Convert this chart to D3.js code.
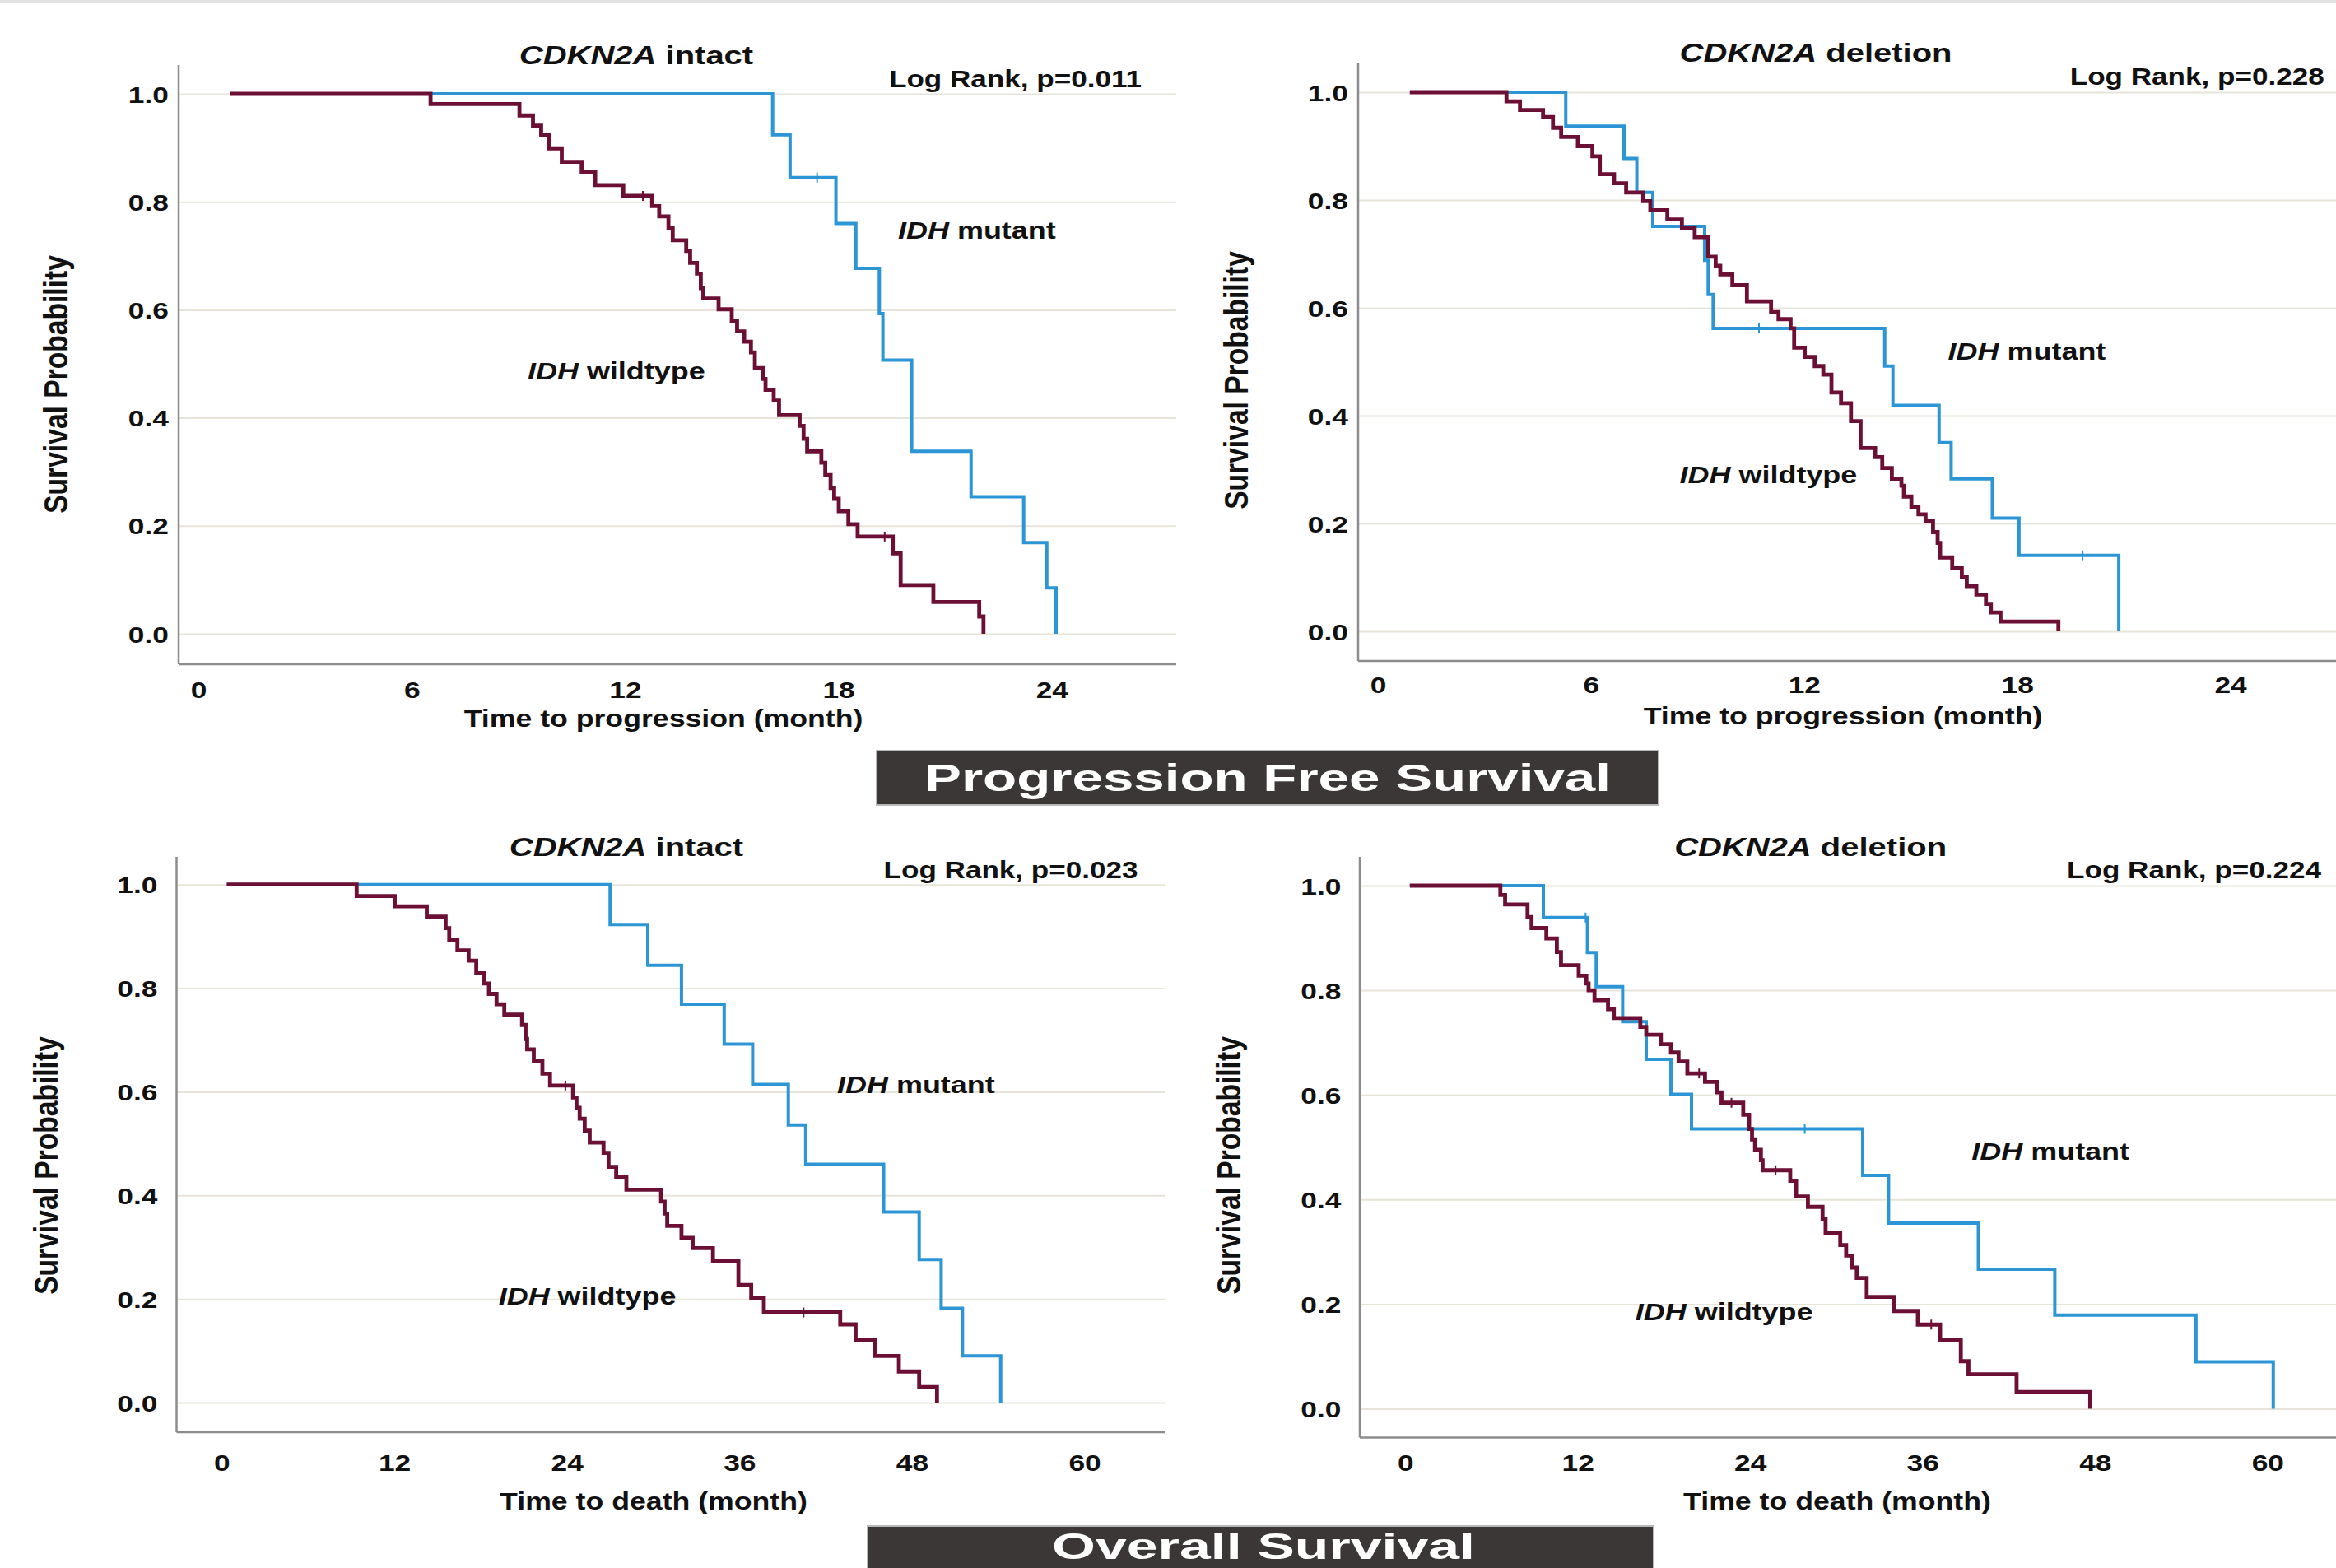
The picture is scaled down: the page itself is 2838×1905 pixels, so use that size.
<!DOCTYPE html>
<html><head><meta charset="utf-8">
<script src="https://cdn.jsdelivr.net/npm/d3@7"></script>
<style>html,body{margin:0;padding:0;background:#fff;} svg{display:block;}</style>
</head><body><svg id="c" width="2838" height="1905"></svg>
<script>
// ---------------- DATA (months / survival probability) ----------------
const pfsTicks = [0, 6, 12, 18, 24];
const osTicks = [0, 12, 24, 36, 48, 60];
const yTicks = [0, 0.2, 0.4, 0.6, 0.8, 1.0];

// Progression free survival, CDKN2A intact
const pfsIntactWtTime = [0.9, 6.53, 9.03, 9.41, 9.64, 9.87, 10.22, 10.78, 11.16, 11.95, 12.76, 12.96, 13.22, 13.34, 13.72, 13.83, 14.02, 14.13, 14.20, 14.63, 15.00, 15.15, 15.35, 15.54, 15.65, 15.88, 15.95, 16.18, 16.33, 16.91, 17.02, 17.12, 17.52, 17.63, 17.78, 17.88, 18.01, 18.28, 18.54, 19.53, 19.75, 20.67, 21.96, 22.08];
const pfsIntactWtSurv = [1.0, 0.981, 0.960, 0.941, 0.923, 0.899, 0.874, 0.855, 0.831, 0.811, 0.792, 0.773, 0.751, 0.729, 0.709, 0.687, 0.667, 0.640, 0.621, 0.601, 0.580, 0.560, 0.541, 0.521, 0.492, 0.472, 0.452, 0.432, 0.405, 0.385, 0.361, 0.338, 0.317, 0.294, 0.270, 0.250, 0.227, 0.203, 0.180, 0.149, 0.090, 0.059, 0.032, 0];
const pfsIntactWtCensor = [12.50, 19.30];
const pfsIntactMutTime = [0.9, 16.15, 16.64, 17.93, 18.49, 19.15, 19.25, 20.06, 21.73, 23.21, 23.86, 24.12];
const pfsIntactMutSurv = [1.0, 0.924, 0.845, 0.760, 0.677, 0.593, 0.507, 0.338, 0.254, 0.169, 0.085, 0];
const pfsIntactMutCensor = [17.40];

// Progression free survival, CDKN2A deletion
const pfsDelWtTime = [0.90, 3.62, 4.00, 4.65, 4.93, 5.16, 5.63, 6.04, 6.25, 6.65, 6.99, 7.47, 7.67, 8.15, 8.56, 8.92, 9.30, 9.51, 9.64, 9.98, 10.39, 11.07, 11.28, 11.62, 11.72, 12.02, 12.30, 12.54, 12.77, 13.04, 13.32, 13.59, 14.00, 14.20, 14.47, 14.74, 14.81, 15.02, 15.22, 15.42, 15.63, 15.76, 15.83, 16.17, 16.44, 16.58, 16.85, 17.12, 17.26, 17.53, 19.16];
const pfsDelWtSurv = [1.0, 0.983, 0.967, 0.954, 0.934, 0.917, 0.900, 0.881, 0.848, 0.831, 0.814, 0.798, 0.781, 0.764, 0.748, 0.731, 0.695, 0.678, 0.662, 0.642, 0.612, 0.592, 0.579, 0.562, 0.526, 0.509, 0.492, 0.476, 0.443, 0.423, 0.390, 0.340, 0.323, 0.303, 0.283, 0.270, 0.250, 0.230, 0.217, 0.204, 0.184, 0.164, 0.137, 0.117, 0.101, 0.084, 0.068, 0.051, 0.035, 0.018, 0];
const pfsDelWtCensor = [];
const pfsDelMutTime = [0.90, 5.29, 6.93, 7.29, 7.74, 9.20, 9.30, 9.44, 14.27, 14.50, 15.80, 16.14, 17.30, 18.05, 20.86];
const pfsDelMutSurv = [1.0, 0.937, 0.877, 0.814, 0.751, 0.688, 0.625, 0.562, 0.492, 0.419, 0.350, 0.283, 0.210, 0.141, 0];
const pfsDelMutCensor = [10.73, 19.84];

// Overall survival, CDKN2A intact
const osIntactWtTime = [0.35, 9.38, 12.03, 14.26, 15.57, 15.82, 16.39, 17.17, 17.70, 18.23, 18.58, 19.11, 19.65, 20.88, 21.13, 21.24, 21.70, 22.30, 22.83, 24.43, 24.67, 24.89, 25.24, 25.59, 26.55, 26.90, 27.43, 28.14, 30.55, 30.80, 30.98, 31.97, 32.75, 34.16, 35.93, 36.82, 37.70, 43.01, 44.08, 45.42, 47.09, 48.50, 49.74];
const osIntactWtSurv = [1.0, 0.978, 0.958, 0.938, 0.916, 0.893, 0.873, 0.853, 0.829, 0.809, 0.789, 0.769, 0.749, 0.729, 0.702, 0.682, 0.659, 0.635, 0.612, 0.589, 0.569, 0.548, 0.525, 0.502, 0.482, 0.455, 0.435, 0.411, 0.388, 0.365, 0.341, 0.318, 0.298, 0.274, 0.227, 0.201, 0.174, 0.151, 0.120, 0.090, 0.060, 0.030, 0];
const osIntactWtCensor = [23.9, 40.46];
const osIntactMutTime = [0.35, 27.01, 29.63, 31.97, 34.94, 36.92, 39.40, 40.61, 46.03, 48.50, 50.03, 51.51, 54.17];
const osIntactMutSurv = [1.0, 0.923, 0.844, 0.769, 0.692, 0.614, 0.536, 0.460, 0.368, 0.276, 0.182, 0.090, 0];
const osIntactMutCensor = [];

// Overall survival, CDKN2A deletion
const osDelWtTime = [0.32, 6.62, 6.95, 8.51, 8.79, 9.82, 10.55, 10.84, 12.07, 12.60, 12.76, 13.17, 14.11, 14.52, 16.36, 16.77, 17.79, 18.49, 19.02, 19.63, 20.86, 21.68, 22.01, 23.52, 23.93, 24.13, 24.34, 24.75, 24.87, 26.79, 27.20, 28.02, 29.04, 29.25, 30.27, 30.68, 31.09, 31.42, 32.11, 34.03, 35.67, 37.22, 38.66, 39.19, 42.54, 47.66];
const osDelWtSurv = [1.0, 0.982, 0.964, 0.940, 0.919, 0.899, 0.873, 0.848, 0.828, 0.813, 0.800, 0.781, 0.764, 0.747, 0.730, 0.715, 0.697, 0.681, 0.664, 0.641, 0.625, 0.605, 0.585, 0.562, 0.535, 0.515, 0.495, 0.475, 0.456, 0.436, 0.406, 0.386, 0.363, 0.336, 0.313, 0.293, 0.270, 0.250, 0.214, 0.187, 0.161, 0.131, 0.091, 0.066, 0.032, 0];
const osDelWtCensor = [20.45, 22.7, 25.77, 36.6];
const osDelMutTime = [0.32, 9.61, 12.68, 13.29, 15.13, 16.77, 18.49, 19.92, 31.83, 33.63, 39.88, 45.20, 55.02, 60.40];
const osDelMutSurv = [1.0, 0.939, 0.872, 0.807, 0.740, 0.668, 0.601, 0.535, 0.446, 0.355, 0.267, 0.179, 0.090, 0];
const osDelMutCensor = [12.55, 27.8];

const panelTitles = [
  [{t: "CDKN2A", i: true}, {t: " intact"}],
  [{t: "CDKN2A", i: true}, {t: " deletion"}],
  [{t: "CDKN2A", i: true}, {t: " intact"}],
  [{t: "CDKN2A", i: true}, {t: " deletion"}]
];
const logRankTexts = ["Log Rank, p=0.011", "Log Rank, p=0.228", "Log Rank, p=0.023", "Log Rank, p=0.224"];
const xTitles = ["Time to progression (month)", "Time to progression (month)", "Time to death (month)", "Time to death (month)"];
const yTitle = "Survival Probability";
const bannerTexts = ["Progression Free Survival", "Overall Survival"];

// ---------------- LAYOUT ----------------
const MAROON = "#6c0f35", BLUE = "#2c95d5";
const FONT = '"Liberation Sans", Arial, Helvetica, sans-serif';

const panels = [
  {ticks: pfsTicks, xMax: 24, xr: [241, 1277.8], yr: [770, 114], axX: 217, axTop: 79, axY: 807, right: 1429,
   yLabR: 205, xLabB: 848, title: [773, 77.5], lr: [1387, 106], mut: [1091, 290], wt: [641, 460.6], xt: [806, 883], yt: [82, 467],
   wt_t: pfsIntactWtTime, wt_s: pfsIntactWtSurv, wt_c: pfsIntactWtCensor, mu_t: pfsIntactMutTime, mu_s: pfsIntactMutSurv, mu_c: pfsIntactMutCensor},
  {ticks: pfsTicks, xMax: 24, xr: [1674, 2709.6], yr: [767, 112], axX: 1650, axTop: 76, axY: 803, right: 2838,
   yLabR: 1638, xLabB: 842, title: [2206, 75], lr: [2823.7, 102.7], mut: [2366.6, 437], wt: [2040.6, 586.7], xt: [2239, 880], yt: [1516, 462],
   wt_t: pfsDelWtTime, wt_s: pfsDelWtSurv, wt_c: pfsDelWtCensor, mu_t: pfsDelMutTime, mu_s: pfsDelMutSurv, mu_c: pfsDelMutCensor},
  {ticks: osTicks, xMax: 60, xr: [269.4, 1317.6], yr: [1704, 1074.7], axX: 214.5, axTop: 1041, axY: 1740, right: 1415,
   yLabR: 191.4, xLabB: 1786.8, title: [761, 1039.6], lr: [1382.5, 1067.3], mut: [1017, 1327.6], wt: [605.7, 1585], xt: [794, 1834], yt: [70, 1416],
   wt_t: osIntactWtTime, wt_s: osIntactWtSurv, wt_c: osIntactWtCensor, mu_t: osIntactMutTime, mu_s: osIntactMutSurv, mu_c: osIntactMutCensor},
  {ticks: osTicks, xMax: 60, xr: [1707.2, 2754.8], yr: [1711.6, 1076], axX: 1652, axTop: 1041, axY: 1746.5, right: 2838,
   yLabR: 1629.4, xLabB: 1786.8, title: [2199.6, 1039.6], lr: [2820, 1067.3], mut: [2395.3, 1409], wt: [1986.8, 1603.6], xt: [2232, 1834], yt: [1507, 1416],
   wt_t: osDelWtTime, wt_s: osDelWtSurv, wt_c: osDelWtCensor, mu_t: osDelMutTime, mu_s: osDelMutSurv, mu_c: osDelMutCensor}
];

const svg = d3.select("#c");
svg.append("rect").attr("x", 0).attr("y", 0).attr("width", 2838).attr("height", 1905).attr("fill", "#fff");
svg.append("rect").attr("x", 0).attr("y", 0).attr("width", 2838).attr("height", 4).attr("fill", "#e2e2e2");

function addText(g, x, y, parts, o) {
  o = Object.assign({size: 29, sx: 1.23, anchor: "start", rotate: false, fill: "#111"}, o || {});
  const t = g.append("text")
    .attr("transform", `translate(${x},${y}) scale(${o.sx},1)` + (o.rotate ? " rotate(-90)" : ""))
    .attr("text-anchor", o.anchor).attr("font-size", o.size).attr("font-weight", "bold")
    .attr("font-family", FONT).attr("fill", o.fill);
  (typeof parts === "string" ? [{t: parts}] : parts).forEach(p =>
    t.append("tspan").attr("font-style", p.i ? "italic" : "normal").text(p.t));
  return t;
}

function levelAt(times, surv, tc) {
  let v = surv[0];
  for (let k = 0; k < times.length; k++) if (times[k] <= tc) v = surv[k];
  return v;
}

panels.forEach((p, idx) => {
  const g = svg.append("g");
  const x = d3.scaleLinear().domain([0, p.xMax]).range(p.xr);
  const y = d3.scaleLinear().domain([0, 1]).range(p.yr);

  // gridlines
  const grid = g.append("g").attr("transform", `translate(${p.axX},0)`)
    .call(d3.axisLeft(y).tickValues(yTicks).tickSize(-(p.right - p.axX)).tickFormat(""));
  grid.select(".domain").remove();
  grid.selectAll("line").attr("stroke", "#e7e4d9").attr("stroke-width", 2);

  // axis lines
  g.append("line").attr("x1", p.axX).attr("x2", p.axX).attr("y1", p.axTop).attr("y2", p.axY)
    .attr("stroke", "#8c8c8c").attr("stroke-width", 2.5);
  g.append("line").attr("x1", p.axX).attr("x2", p.right).attr("y1", p.axY).attr("y2", p.axY)
    .attr("stroke", "#8c8c8c").attr("stroke-width", 2.5);

  // y tick labels
  const ya = g.append("g").attr("transform", `translate(${p.yLabR},0)`)
    .call(d3.axisLeft(y).tickValues(yTicks).tickSize(0).tickPadding(0).tickFormat(d3.format(".1f")));
  ya.select(".domain").remove();
  ya.selectAll("text").attr("x", null).attr("dy", null)
    .attr("transform", "translate(0,10) scale(1.24,1)")
    .attr("font-size", 28.5).attr("font-weight", "bold").attr("font-family", FONT).attr("fill", "#111");

  // x tick labels
  const xa = g.append("g").attr("transform", `translate(0,${p.xLabB})`)
    .call(d3.axisBottom(x).tickValues(p.ticks).tickSize(0).tickPadding(0).tickFormat(d3.format("d")));
  xa.select(".domain").remove();
  xa.selectAll("text").attr("y", null).attr("dy", null)
    .attr("transform", "scale(1.24,1)")
    .attr("font-size", 28.5).attr("font-weight", "bold").attr("font-family", FONT).attr("fill", "#111");

  // curves
  const line = d3.line().x(d => x(d[0])).y(d => y(d[1])).curve(d3.curveStepAfter);
  const series = [
    {t: p.mu_t, s: p.mu_s, c: p.mu_c, col: BLUE, w: 4},
    {t: p.wt_t, s: p.wt_s, c: p.wt_c, col: MAROON, w: 4.8}
  ];
  series.forEach(sr => {
    const pts = sr.t.map((tt, k) => [tt, sr.s[k]]);
    g.append("path").datum(pts).attr("d", line).attr("fill", "none")
      .attr("stroke", sr.col).attr("stroke-width", sr.w).attr("stroke-linejoin", "miter").attr("stroke-linecap", "butt");
    g.selectAll(null).data(sr.c).enter().append("line")
      .attr("x1", d => x(d)).attr("x2", d => x(d))
      .attr("y1", d => y(levelAt(sr.t, sr.s, d)) - 6).attr("y2", d => y(levelAt(sr.t, sr.s, d)) + 6)
      .attr("stroke", sr.col).attr("stroke-width", 2);
  });

  // texts
  addText(g, p.title[0], p.title[1], panelTitles[idx], {size: 31, sx: 1.29, anchor: "middle"});
  addText(g, p.lr[0], p.lr[1], logRankTexts[idx], {size: 29, sx: 1.21, anchor: "end"});
  addText(g, p.mut[0], p.mut[1], [{t: "IDH", i: true}, {t: " mutant"}], {size: 29, sx: 1.24});
  addText(g, p.wt[0], p.wt[1], [{t: "IDH", i: true}, {t: " wildtype"}], {size: 29, sx: 1.24});
  addText(g, p.xt[0], p.xt[1], xTitles[idx], {size: 29, sx: 1.23, anchor: "middle"});
  addText(g, p.yt[0], p.yt[1], yTitle, {size: 33.6, sx: 1.22, anchor: "middle", rotate: true});
});

// banners
const banners = [
  {x: 1065, y: 912, w: 950, h: 66, cx: 1540, base: 961, len: 834, size: 46},
  {x: 1054, y: 1854, w: 955, h: 70, cx: 1535, base: 1894, len: 514, size: 44}
];
banners.forEach((b, k) => {
  svg.append("rect").attr("x", b.x).attr("y", b.y).attr("width", b.w).attr("height", b.h)
    .attr("fill", "#3a3736").attr("stroke", "#b8b8b8").attr("stroke-width", 2);
  svg.append("text").attr("x", b.cx).attr("y", b.base).attr("text-anchor", "middle")
    .attr("font-size", b.size).attr("font-weight", "bold").attr("font-family", FONT).attr("fill", "#fff")
    .attr("textLength", b.len).attr("lengthAdjust", "spacingAndGlyphs")
    .text(bannerTexts[k]);
});
</script></body></html>
